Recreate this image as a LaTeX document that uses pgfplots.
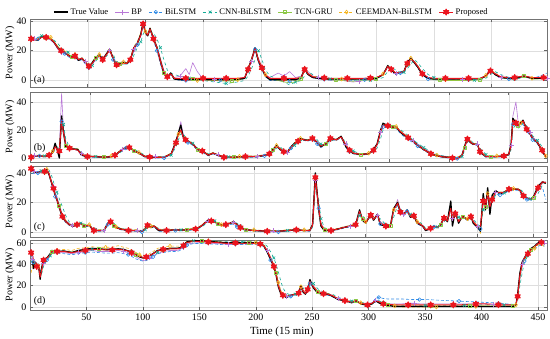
\documentclass[border=0pt]{standalone}
\usepackage{pgfplots}
\pgfplotsset{compat=1.18}
\usepackage{pgfplotstable}
\usepackage{fontspec}
\setmainfont{Liberation Serif}

\definecolor{cBP}{RGB}{185,120,215}
\definecolor{cBL}{RGB}{50,140,230}
\definecolor{cCB}{RGB}{20,170,150}
\definecolor{cTG}{RGB}{140,200,70}
\definecolor{cCE}{RGB}{245,180,30}
\definecolor{cPR}{RGB}{235,20,30}

\pgfdeclareplotmark{hexstar}{%
  \pgfpathmoveto{\pgfpointpolar{90}{\pgfplotmarksize}}%
  \pgfpathlineto{\pgfpointpolar{120}{0.5\pgfplotmarksize}}%
  \pgfpathlineto{\pgfpointpolar{150}{\pgfplotmarksize}}%
  \pgfpathlineto{\pgfpointpolar{180}{0.5\pgfplotmarksize}}%
  \pgfpathlineto{\pgfpointpolar{210}{\pgfplotmarksize}}%
  \pgfpathlineto{\pgfpointpolar{240}{0.5\pgfplotmarksize}}%
  \pgfpathlineto{\pgfpointpolar{270}{\pgfplotmarksize}}%
  \pgfpathlineto{\pgfpointpolar{300}{0.5\pgfplotmarksize}}%
  \pgfpathlineto{\pgfpointpolar{330}{\pgfplotmarksize}}%
  \pgfpathlineto{\pgfpointpolar{0}{0.5\pgfplotmarksize}}%
  \pgfpathlineto{\pgfpointpolar{30}{\pgfplotmarksize}}%
  \pgfpathlineto{\pgfpointpolar{60}{0.5\pgfplotmarksize}}%
  \pgfpathclose\pgfusepathqfillstroke}

\pgfplotstableread{
x T BP BL CB TG CE PR
1 28 27 27 28 28.5 28 28
4 27.5 28 27 28 28 28.5 27.5
7 27 27 28 29 28 28 27.5
10 29.5 29 29 30 29.5 30 29
14 29 29 28.5 30 29 29.5 29
18 28 27 28 28.5 28 29 28
21 25.5 25 25 27 26 26 25.5
24 22 21 22 25 23 23 22
27 20 19 19.5 22 20.5 21 20
30 19 18 18 20 19 20 19
33 17 17 16 19 17.5 18 17
36 15.5 16 15 17 16 16 15.5
39 17 16 16 16 17 17.5 16.5
42 13.5 14 13 15 14 14 14
45 15 14 14 14 15 15.5 15
48 12 13 11 13 12 12.5 12
51 9 10 8.5 10 9.5 10 9.5
54 12 11 11 10 12 12.5 11.5
57 15.5 14 14.5 13 15 16 15
60 17 18 16 16 17 17.5 16.5
63 14 15 13.5 16 14.5 15 14
66 17.5 18 17 16 17 18 17
69 21 20 20 19 20.5 21.5 20.5
72 15 16 14 18 15.5 16 15
75 10 11 9.5 12 10 11 10.5
78 11.5 12 11 10 11.5 12 11
81 12 13 11 11 12 12.5 11.5
84 11.5 12 11 11 11.5 12 11.5
87 14 14 13 12 14 15 14
90 22 21 20 17 21.5 23 22
93 25 24 24 22 25 26 25
96 31 30 30 26 31 32 30.5
98 39 37 37 31 38 39 38
100 32 33 33 34 32.5 33 32.5
102 30 30 30 32 30 31 30.5
104 35 34 34 33 35 35.5 34.5
107 28 29 27 32 28.5 29 28
110 22 23 20 28 22.5 23 22
113 13 15 11 22 14 14 13
116 5 7 4 14 5.5 6 5.5
119 2 3 1.5 7 2.5 3 2.5
122 5 5 4 5 5 5 4.5
125 1 2 1 4 1.5 2 1.5
130 0.5 3 0 3 1 1 1.5
135 0.5 8 0 2 1 0.5 1.5
138 0.5 4 0.5 1.5 0.5 0.5 1.5
141 0.5 12 0 1 1 0.5 1.5
145 0.5 6 0 1 0.5 0 1.5
150 0.8 1 0.5 0 0.5 0.5 1.5
155 0.5 1 0.5 -0.5 0.3 0.2 1.5
160 0.5 1 0.5 -1 0 0 1.5
165 0.5 0.5 0.2 -1.5 -0.3 0 1.5
170 0.5 0.5 0 -2 -0.5 0 1.5
175 0.6 0.8 0.2 -1.5 -0.2 0.2 1.5
180 0.8 1 0.5 -1 0 0.5 1.5
186 1.5 2 1 0 1.5 2 2
189 8 7 7 3 8 8.5 7.5
192 14 13 13 8 14 15 14
195 22 20 21 14 21 22 21.5
198 13 15 12 20 13.5 14 13.5
201 8 9 7 14 8.5 9 8.5
204 3 4 2.5 7 3.5 4 3.5
208 0.5 2 0 3 1 1 1.5
215 0.5 5 0 1 0 0.5 1.5
220 0.5 3 0 -1 -1 0 1.5
225 0.5 6 -0.5 -3 -1.5 0 1.5
230 0.5 2 0 -1 -1 0 1.5
235 2 3 1.5 0 1 2 2
238 8 7 7 3 7 8 7.5
241 4 6 4 6 4.5 5 4.5
245 2 3 2 4 2 3 2.5
250 1.5 2 1 2 1.5 2 2
255 1.2 1 0.8 1.5 1 1.5 1.8
260 1 0 0.5 1 0.5 1 1.5
265 1 0.2 0.5 0.8 0.2 1 1.5
270 1.2 0.5 0.5 0.5 0 1 1.5
275 1.1 -0.5 0.2 0.5 -0.3 0.8 1.5
280 1 -1 0 0.5 -0.5 0.5 1.5
285 1 -0.5 0.2 0.2 -0.2 0.8 1.5
290 1 0 0.5 0 0 1 1.5
295 1.2 0.5 0.8 0.2 0.5 1.2 1.7
300 1.5 1 1 0.5 1 1.5 2
306 4 4 3.5 2 4 4.5 4
310 10 9 9 6 9.5 10 9.5
313 7 8 7 9 7.5 8 7.5
317 4.5 5 4 7 5 5 5
321 5.5 5 5 5 5.5 6 5.5
324 6 6 5.5 5.5 6 6.5 6
327 12 11 11 8 11.5 12 11.5
330 15 14 14 11 14.5 15 14.5
333 12 13 12 14 12.5 13 12.5
336 9 10 8.5 12 9.5 10 9.5
340 4 5 3.5 8 4.5 5 4.5
345 1.5 2 1 4 1.5 2 2
350 1 1 0.5 2 0.5 1 1.5
355 1 0.5 0.5 1 0.2 0.8 1.5
360 1 0 0.5 0.5 0 0.5 1.5
365 1 0.5 0.2 0.2 0 0.5 1.5
370 1 1 0 0 0 0.5 1.5
375 1 0.8 0.2 0 0 0.5 1.5
380 1 0.5 0.5 0 0 0.5 1.5
385 1.1 0.8 0.8 0.2 0.2 0.8 1.5
390 1.2 1 1 0.5 0.5 1 1.5
395 3 3 2.5 1.5 3 3.5 3
399 7 6 6.5 4 7 7.5 6.5
403 4 5 4 6 4.5 5 4.5
408 2 2 2 4 2 2.5 2.5
415 1.5 1 1 2 1 1.5 2
420 1.5 1 1.5 1 1 1.5 2
428 3 2.5 2.5 2 3 3 3
435 1.5 1 1.5 2 1 1.5 2
440 1.5 1.5 2.5 1.5 1 1.5 2
445 1.5 1 4 1.5 1.5 1.5 2
448 1.5 1.5 5 1.5 1.5 1.5 2
}\dataA

\pgfplotstableread{
x T BP BL CB TG CE PR
1 0.5 1 2 1.5 1 1 0.5
4 1.5 2 2 2 1.5 2 1.5
8 1.5 1 1.5 1.5 1.5 2 1.5
12 1 1 1 1.5 1 1.5 1
16 2 2 1.5 1.5 2 2.5 2
19 4 4 3.5 3 4 5 4
21 10.5 8 8 6 9 9 8
23 5 7 6 8 6 7 6
24.5 0 6 5 6 5 6 5
26.4 30 46 26 22 27 28 27
28 18 20 20 24 19 18 18
30 8 10 9 13 9 9 9
33 7 7 7 8 7 7.5 7
36 6.5 6 6 7 6.5 7 6.5
40 6 6 5.5 6.5 6 6.5 5.5
43 2 3 2 4 2.5 3 2.5
48 1 1.5 0.5 1.5 1 1.5 1
55 1 1 0.5 1 1 1.5 1
62 0.5 1 0 0.5 0.5 1 0.5
68 1 1 0.5 1 1 1.5 1
71 2 2 1.5 1.5 2 2.5 2
74 4 4 3.5 3 4 4.5 4
77 6 6 5.5 5 6 6.5 6
80 7.5 7 7 7 7.5 8 7.5
83 7.5 7.5 7 7.5 7.5 8 7.5
87 5 5.5 4.5 6 5 5.5 5
91 3.5 4 3 4.5 3.5 4 3.5
96 1 1.5 0.5 2 1 1.5 1
100 0.7 1 0.2 1 0.7 1.2 0.7
105 0.5 1 0 0.5 0.5 1 0.5
112 0.5 0.5 0 0.5 0.5 1 0.5
118 3 3 2.5 2 3 3.5 3
122 12 11 10 8 11 12 11
124 18 17 16 13 16 17 17
126 23.5 26 18 17 19 20 20
128 15 17 15 18 15 16 15
130 13 13 12 14 13 13.5 13
132 12 12 11 12.5 12 12.5 12
136 10 10 9 10.5 10 10.5 10
140 6 7 5.5 7 6 6.5 6
144 5 5 4 5.5 5 5.5 5
149 2 2.5 1.5 3 2 2.5 2
153 3.5 3 3 3 3.5 4 3.5
157 2 2.5 1.5 2.5 2 2.5 2
162 0.5 1 0 1 0.5 1 0.5
166 0.5 0.8 0 0.8 0.5 1 0.5
170 0.5 0.5 0 0.5 0.5 1 0.5
175 0.8 0.8 0.2 0.5 0.8 1.2 0.8
180 1 1 0.5 0.5 1 1.5 1
185 1 1 0.5 0.8 1 1.5 1
190 1 1 0.5 1 1 1.5 1
196 2 2 1.5 1.5 2 2.5 2
200 3 3 2.5 2.5 3 3.5 3
203 6 5 5 4 5.5 6 5.5
206 9 8 8 7 8.5 9 8.5
209 6 7 6 8 6.5 7 6.5
212 4.5 5 4 5.5 4.5 5 4.5
215 4 4 3.5 4.5 4 4.5 4
218 8 7 7 6 7.5 8 7.5
221 10.5 10 10 9 10 11 10
224 12 12 11 11 12 12.5 12
226 14 13 13 12 13.5 14 13.5
229 13 13.5 12.5 13.5 13 13.5 13
232 12.5 13 12 13 12.5 13 12.5
236 14 14 13 13.5 14 14.5 14
240 11 12 10 13 11 11.5 11
243 8 9 7.5 10 8.5 9 8.5
247 10 10 9 9 10 10.5 10
251 14 13 13 12 13.5 14 14
256 13 13.5 12.5 13.5 13 13.5 13
260 15.5 15 14.5 14 15 15.5 15
264 8 10 7.5 12 9 9 9
267 5 6 4.5 7 5.5 6 5.5
270 3.3 4 3 5 3.5 4 3.5
276 2.5 3 2 3 2.5 3 2.5
283 3 3 2.5 3 3 3.5 3
287 6 5 5.5 4.5 5.5 6 5.5
290 10 9 9 7 9.5 10 9.5
293 20 18 18 14 19 19 19
295 24.8 23 22 20 24 24 23.5
299 23 24 22 23.5 23 23.5 23
303 22 22.5 21.5 22.5 22 22.5 22
306 22 22 21 22 22 22.5 22
310 18 19 17 20 18.5 19 18.5
316 14 15 13 16 14.5 15 14.5
320 12 12.5 11 13 12 12.5 12
324 9 10 8.5 10.5 9 9.5 9
329 6 7 5.5 7.5 6 6.5 6
335 3 4 2.5 4.5 3 3.5 3
340 1.5 2 1 2.5 1.5 2 1.5
345 0.8 1.5 0.5 1.5 0.8 1.2 0.8
349 0.5 1 0 1 0.5 1 0.5
353 0 0.5 -0.3 0.5 0.2 0.8 0
357 -0.5 0 -0.5 0 0 0.5 -0.5
361 2 2 1.5 1 2 2.5 2
363 8 7 6.5 5 7.5 8 7.5
365.5 14.2 13 13 11 13.5 14 13.5
368 11 12 11 13 11.5 12 11.5
370 10 10.5 9.5 11 10 10.5 10
374 9.5 10 9 10 9.5 10 9.5
376 4 5 4 7 4.5 5 4.5
381 1 1.5 0.5 2.5 1 1.5 1
385 1 1.2 0.5 1.5 1 1.5 1
390 1 1 0.5 1 1 1.5 1
396 1.5 1.5 1 1.5 1.5 2 1.5
400 2.5 2.5 2 2 2.5 3 2.5
402 10 9 8 6 9 9.5 9
403.5 28.3 30 24 20 26 27 27
406 25 40 24 25 25 25.5 25
408 23 25 21 24 23 23.5 23
410 25 24 23 23 24.5 25 24.5
412 27 26 24 25 26 26.5 26.5
415 20 22 19 23 20.5 21 20.5
418 17 18 16 19 17 17.5 17
420 14 15 13 16 14 14.5 14
424 11 12 10 12.5 11 11.5 11
428 5 6 4.5 8 5.5 6 5.5
431 0.5 1.5 1 3 1 1.5 1
}\dataB

\pgfplotstableread{
x T BP BL CB TG CE PR
1 42 41 40 42 41 42 43
4 40.5 41 39.5 41 40.5 41 41
7 40.5 40 40 41 40.5 41 40.5
10 41 41 40.5 41.5 41 41.5 41
13 41 41.5 40.5 42 41 41.5 41
15 42.5 42 41.5 42 42 42.5 42
17 39 40 39 42 39.5 40 39.5
19 34 35 33 39 34.5 35 34
21 29 31 28 34 29.5 30 29.5
22.5 25 27 24 30 25.5 26 25
24 22 24 21 27 22.5 23 22
26 17 19 16 23 17.5 18 17
29 10 12 9 17 11 11 10.5
32 7 8 6.5 11 7.5 8 7
35 5 6 4.5 7 5 5.5 5
38 4 4.5 3.5 5 4 4.5 4
42 5 5 4.5 4.5 5 5.5 5
45.5 6 6 5.5 6 6 6.5 5.5
48 4 4.5 3.5 5.5 4 4.5 4
53 4.5 4 4 4.5 4.5 5 4.5
57 1 2 0.5 3 1 1.5 1
62 1 1 0.5 1.5 1 1.5 1
66 1 1 0.5 1 1 1.5 1
69.5 6 5 5 4 5.5 6 5.5
72 7.5 7 7 7 7.5 8 7
75 4 5 3.5 6 4.5 5 4.5
77 3 3.5 2.5 4 3 3.5 3
81 2 2 1.5 2.5 2 2.5 2
88 1 1 0.5 1.5 1 1.5 1
96 1 1 0.5 1 1 1.5 1
100 0.5 1 0 0.5 0.5 1 0.5
103 2 2 1.5 1.5 2 2.5 2
105 5 4 4 3 4.5 5 4.5
108 3 4 3 4.5 3.5 4 3.5
111 4 4 3.5 4 4 4.5 4
115 1 2 0.5 2.5 1.5 2 1.5
122 1 1 0.5 1 1 1.5 1
130 1.5 1.5 1 1.5 1.5 2 1.5
135 1.2 1.5 0.8 1.5 1.2 1.8 1.2
140 1.5 1.5 1 1.5 1.5 2 1.5
148 2 2 1.5 2 2 2.5 2
153 4 4 3.5 3 4 4.5 4
156 6 5.5 5 5 6 6.5 6
159 8 7.5 7 7 7.5 8 7.5
162 7.5 8 7 7.5 7.5 8 7.5
165 7 7 6 7.5 7 7.5 7
168 5.5 6 5 6.5 5.5 6 5.5
171 4.5 5 4 5 4.5 5 4.5
175 5 5 4.5 5 5 5.5 5
179 6 6 5 5.5 6 6.5 6
182 7 6.5 5.5 6.5 6.5 7 6.5
185 5 5.5 3.5 6 5 5.5 5
188 3 3.5 2 4 3 3.5 3
193 1.5 2 1 2 1.5 2 1.5
200 1 1 0.5 1.5 1 1.5 1
206 0.8 1 0.2 1 0.8 1.2 0.8
212 0.5 1 0 0.5 0.5 1 0.5
217 0.5 0.8 0 0.5 0.5 1 0.5
222 0.5 0.5 0 0.5 0.5 1 0.5
230 1 1 0.5 1 1 1.5 1
238 1.5 1.5 1 1.5 1.5 2 1.5
245 1 1 0.5 1 1 1.5 1
250 1 1 0.5 1 1 1.5 1
252.5 5 4 4 3 4.5 5 4.5
255 40 35 34 30 36 37 37
258 15 18 16 22 16 17 16
260 4 6 5 9 5 6 5
263 1 2 1 3 1.5 2 1.5
269 1 1 0.5 1 1 1.5 1
275 2 2 1.5 2 2 2.5 2
280 3 3 2.5 3 3 3.5 3
286 4 4 3.5 4 4 4.5 4
291 5 5 4.5 5 5 5.5 5
294.5 15 13 13 11 14 14 14
297 8 10 9 12 9 9.5 9
300 6 7 6 8 6.5 7 6.5
304.5 12 11 11 10 11.5 12 11.5
307 8 9 8 10 8.5 9 8.5
310.5 12 11 11 10 11.5 12 11.5
313 5 7 5.5 9 6 6.5 6
318 4 4.5 3.5 5 4 4.5 4
322 4 4 3.5 4 4 4.5 4
325 16 14 14 10 15 15 15
328.5 20 22 18 18 20 20.5 19.5
331 13 15 13 16 13.5 14 13.5
334 12 12 11 13 12 12.5 12
337 15 14 14 13 14.5 15 14.5
340 10 11 9.5 12 10.5 11 10.5
343 11 11 10 10.5 11 11.5 11
346 6 7 5.5 8 6.5 7 6.5
351 4 4.5 3.5 5 4 4.5 4
353.5 1 2 1 2.5 1.5 2 1.5
358 2.5 2.5 2 2 2.5 3 2.5
361 4 4 3.5 3 4 4.5 4
364 3 3.5 3 3.5 3 3.5 3
367 5 5 4.5 4 5 5.5 5
370 10 9 9 7 9.5 10 9.5
373 7 8 7 9 7.5 8 7.5
376 21 16 15 12 16 17 16
377.5 4 9 8 12 8 9 8
380 14 12 12 10 12.5 13 12.5
383 6 8 7 10 7 7.5 7
386.5 11 10 10 9 10.5 11 10.5
391 8 9 8 9.5 8.5 9 8.5
394 11 10 10 9 10.5 11 10.5
396 6 8 7 9 7 7.5 7
400 3 4 3 5 3.5 4 3.5
402.5 0.5 3 2 4 2 -1 4
405 26 22 20 15 21 22 21
407 15 18 17 20 17 18 17
409 30 25 24 20 25 26 26
411 12 18 16 22 17 18 17
413 25 22 21 20 22 23 22
416 28 27 26 25 27 27.5 27
420 26 27 25 27 26.5 27 26.5
424 27 27 26 26.5 27 27.5 27
428 29 28.5 28 28 29 29.5 29
432 29 29 28 29 29 29.5 29
436 29 29 28 29 29 29.5 29
438 28 28.5 27 29 28 28.5 28
441 24 25 23 27 24.5 25 24.5
444 23 23.5 22 24 23 23.5 23
447 22 22.5 21 22.5 22 22.5 22
450 24 23 23 22 23.5 24 23.5
454 31 29 29 26 30 30.5 30
458 34 33 30 32 33.5 34 34
461 33 34 22 34 33 33.5 33.5
}\dataC

\pgfplotstableread{
x T BP BL CB TG CE PR
1 50 46 49 42 44 32 51
2 49 45 47 44 45 38 50
3 36 40 42 45 42 42 44
5 42 38 40 40 41 40 41
6 38 39 38 40 39 39 38
7.5 40 37 37 39 38 38 39
9 26 30 32 36 31 30 28
10 35 32 30 30 32 31 33
12 45 41 41 38 43 42 44
15 46 45 44 44 46 46 46
18 50 48 48 48 49 50 49
19 53 51 51 51 52 53 52
24 52 51 50 52 52 53 52
30 52.5 51 50 52 52.5 54 52
37 51 50 49 51.5 51.5 53 51
43 53 51 50 52 53 55 52
49 54 52 51 53 54 55.5 53
55 55 53 51.5 54 55 56.5 54
61 54.5 52 51 54 54.5 56 54
67 54 52 50.5 53.5 54 56 53.5
73 54 52 50.5 53 54 56 53.5
78 54.5 53 51 54 54.5 57.5 54
83 54 52 50 53.5 54 56 53.5
87 52.5 51 49 53 52.5 55 52.5
90 51 49 47.5 52 51 53 51
94 49 47 45 50 49 51 49
97 47 45 44 48 47 49 47.5
100 46 43.5 43 47 46 48 46.5
103 46.5 44 43.5 46.5 46.5 48 47
106 48 46 45 47 48 50 48
109 50 48 47 49 50 52 50
113 53 50 50 51 52.5 55 52.5
118 54 52 51 53 54 56 54
124 55 53 52 54.5 55 57 54.5
130 55 53 52 55 55 57 54.5
133 55.5 54 53 55 55.5 57 55
136 58 56 56 57 58 59 57.5
139 61 59 58 60 60.5 61.5 60.5
145 62 60 59.5 62 62 62.5 61.5
152 62 60.5 59.5 62.5 62 62.5 61.5
158 61.5 60 59 62 61.5 62 61
164 61 59.5 59 62 61 61.5 60.5
170 60.5 59 58.5 61.5 60.5 61 60
176 60 59 58.5 61.5 60 60.5 59.5
182 60.5 59 59 61.5 60.5 61 60
188 60 59 58.5 61 60 60.5 59.5
194 60.5 59.5 59 61.5 60.5 61 60
200 60 59 58.5 61 60 60.5 59.5
204 59.5 58.5 58 61 59.5 60 59
207 57.5 57 56.5 60 58 58.5 57.5
210 52 53 51 57 53 54 53
213 45 47 44 52 46 47 46
216 38 40 37 46 39 40 38
218 30 33 30 40 32 33 31
220 19 23 20 33 22 23 20
222 13 16 14 25 15 16 14
224 11 12 11 18 12 12 11
227 9 10 9 13 10 10 9.5
231 11 11 10 11 11 11.5 11
235 12 12 11 12 12 12.5 12
238 13 13 12 13 13 13.5 13
240 20 18 17 15 18 19 19
242 14 16 14 18 15 16 15
244 12 13 12 15 13 13 12.5
246 17 16 15 14 16 17 16.5
248 25.7 23 22 20 24 24 24
251 18 20 18 22 19 20 19
255 13 15 13 17 14 14.5 14
260 12 13 11.5 14 12.5 13 12.5
264 12 12.5 11 12.5 12 12.5 12
268 10 11 9.5 12 10.5 11 10.5
273 7 8 7 9 7.5 8 7.5
279 6 6.5 6 7 6 6.5 6
285 4 5 4 5.5 4.5 5 4.5
288.5 6 6 5.5 5 6 6.5 6
293 3 4 3 4.5 3.5 4 3.5
299 1.5 3 2 3 2 2.5 2
303 3 4 4 3 3 3.5 3.5
306 6 6 8 5 5.5 6 6
309 4 5 9 6 4.5 5 5
313 2 3 8 4 2.5 3 3
317 1.5 3 7.5 3 2 2 2.5
323 0.5 3 7.5 2 1 1 2
330 0.5 3 7.5 1.5 1 0 2
335 0.5 3.5 7.2 1.5 1 0 2
340 0.5 3.5 7 1.5 1 0 2
345 0.5 3 7 1.5 1 0 2
350 0.5 3 7 1.5 1 0 2
355 0.5 3 6.8 1.5 1 0 2
360 0.5 3 6.5 1.5 1 0 2
365 0.5 3 6.2 1.5 1 0.5 2
370 0.5 3 6 1.5 1 0.5 2
375 0.5 3 5.8 1.5 1 0.5 2
380 0.5 3 5.5 1.5 1 0.5 2
385 0.5 3 5.2 1.5 1 0.5 2.2
390 0.5 3 5 1.5 1 0.5 2.5
395 0.5 3 4.8 1.5 1 0.5 2.8
400 0.5 3 4.5 2 1 1 3
405 0.5 2.8 4.2 2 1 1 2.8
410 0.5 2.5 4 2 1 1 2.5
415 0.5 2.5 3.5 2 1 1 2.2
420 0.5 2.5 3 2 1 1 2
428 0.5 2 2.5 2 1 1 2
430.5 2 3 3 2 2 2 2.5
432 12 10 9 6 10 9 10
434 32 28 27 20 29 28 30
436 42 40 38 32 40 39 41
438 46 45 43 42 45 44 46
441 51 50 48 48 50 49 50
444 55 54 52 53 54 53 54
447 57 56 54 56 56.5 55 56.5
450 60 59 57 59 59.5 58 59.5
453 61 60 58 60.5 60.5 59 60.5
456 61 60 57 61 61 56 60.5
}\dataD

\pgfplotsset{
  sT/.style={black, line width=1.3bp, mark=none},
  sBP/.style={cBP, line width=0.6bp, mark=+, mark size=2.5bp, mark repeat=7, mark phase=2},
  sBL/.style={cBL, line width=0.6bp, densely dashed, mark=o, mark size=1.8bp, mark repeat=7, mark phase=3, mark options={solid}},
  sCB/.style={cCB, line width=0.6bp, dashed, mark=x, mark size=2bp, mark repeat=7, mark phase=4, mark options={solid}},
  sTG/.style={cTG, line width=0.6bp, mark=square, mark size=1.5bp, mark repeat=7, mark phase=5},
  sCE/.style={cCE, line width=0.6bp, densely dashed, mark=diamond, mark size=2bp, mark repeat=7, mark phase=6, mark options={solid}},
  sPR/.style={cPR, line width=1bp, mark=hexstar, mark size=3bp, mark repeat=4, mark phase=1, mark options={fill=cPR, solid}},
  panel/.style={
    scale only axis, width=517bp, xmin=0,
    grid=major, grid style={black!13, line width=0.4bp},
    axis line style={black!55, line width=0.6bp},
    tick style={black!60, line width=0.5bp}, major tick length=3bp,
    xtick={50,100,...,450},
    tick label style={font=\fontsize{10}{12}\selectfont},
    /pgf/number format/assume math mode=true,
    ylabel={Power (MW)},
    ylabel style={font=\fontsize{10}{12}\selectfont, at={(axis description cs:-0.0387,0.5)}, anchor=center},
    every axis plot/.append style={line join=round},
  },
}

\newcommand{\allseries}[1]{%
  \addplot[sBP, forget plot] table[x=x,y=BP]{#1};
  \addplot[sBL, forget plot] table[x=x,y=BL]{#1};
  \addplot[sCB, forget plot] table[x=x,y=CB]{#1};
  \addplot[sTG, forget plot] table[x=x,y=TG]{#1};
  \addplot[sCE, forget plot] table[x=x,y=CE]{#1};
  \addplot[sT, forget plot] table[x=x,y=T]{#1};
  \addplot[sPR, forget plot] table[x=x,y=PR]{#1};
}

\begin{document}
\begin{tikzpicture}
\path[use as bounding box] (0,0) rectangle (550bp,-339bp);

% panel (a)
\begin{axis}[panel, at={(30bp,-19bp)}, anchor=north west, height=68bp,
  xmax=448, ymin=-4.36, ymax=41.3, ytick={0,20,40}, xticklabels={},
  legend columns=7,
  legend style={at={(0.467,1)}, anchor=south, yshift=1bp, draw=none, fill=none,
    font=\fontsize{8.6}{10}\selectfont, inner sep=0pt,
    /tikz/every even column/.append style={column sep=4.5bp}},
  legend image code/.code={\draw[mark repeat=2,mark phase=2] plot coordinates {(0cm,0cm) (0.25cm,0cm) (0.5cm,0cm)};},
]
\addlegendimage{sT}\addlegendentry{True Value}
\addlegendimage{sBP}\addlegendentry{BP}
\addlegendimage{sBL}\addlegendentry{BiLSTM}
\addlegendimage{sCB}\addlegendentry{CNN-BiLSTM}
\addlegendimage{sTG}\addlegendentry{TCN-GRU}
\addlegendimage{sCE}\addlegendentry{CEEMDAN-BiLSTM}
\addlegendimage{sPR}\addlegendentry{Proposed}
\allseries{\dataA}
\node[anchor=west, font=\fontsize{10}{12}\selectfont, inner sep=1bp] at (rel axis cs:0.005,0.096) {(a)};
\end{axis}

% panel (b)
\begin{axis}[panel, at={(30bp,-92bp)}, anchor=north west, height=70bp,
  xmax=432, ymin=-2.86, ymax=47.1, ytick={0,20,40}, xticklabels={}]
\allseries{\dataB}
\node[anchor=west, font=\fontsize{10}{12}\selectfont, inner sep=1bp] at (rel axis cs:0.005,0.2) {(b)};
\end{axis}

% panel (c)
\begin{axis}[panel, at={(30bp,-166.5bp)}, anchor=north west, height=70.5bp,
  xmax=462, ymin=-3.39, ymax=44.4, ytick={0,20,40}, xticklabels={}]
\allseries{\dataC}
\node[anchor=west, font=\fontsize{10}{12}\selectfont, inner sep=1bp] at (rel axis cs:0.005,0.146) {(c)};
\end{axis}

% panel (d)
\begin{axis}[panel, at={(30bp,-240bp)}, anchor=north west, height=70bp,
  xmax=458, ymin=-2.81, ymax=62.8, ytick={0,20,40,60},
  xlabel={Time (15 min)},
  xlabel style={font=\fontsize{11}{13}\selectfont, at={(ticklabel cs:0.487)}}]
\allseries{\dataD}
\node[anchor=west, font=\fontsize{10}{12}\selectfont, inner sep=1bp] at (rel axis cs:0.005,0.12) {(d)};
\end{axis}
\end{tikzpicture}
\end{document}
